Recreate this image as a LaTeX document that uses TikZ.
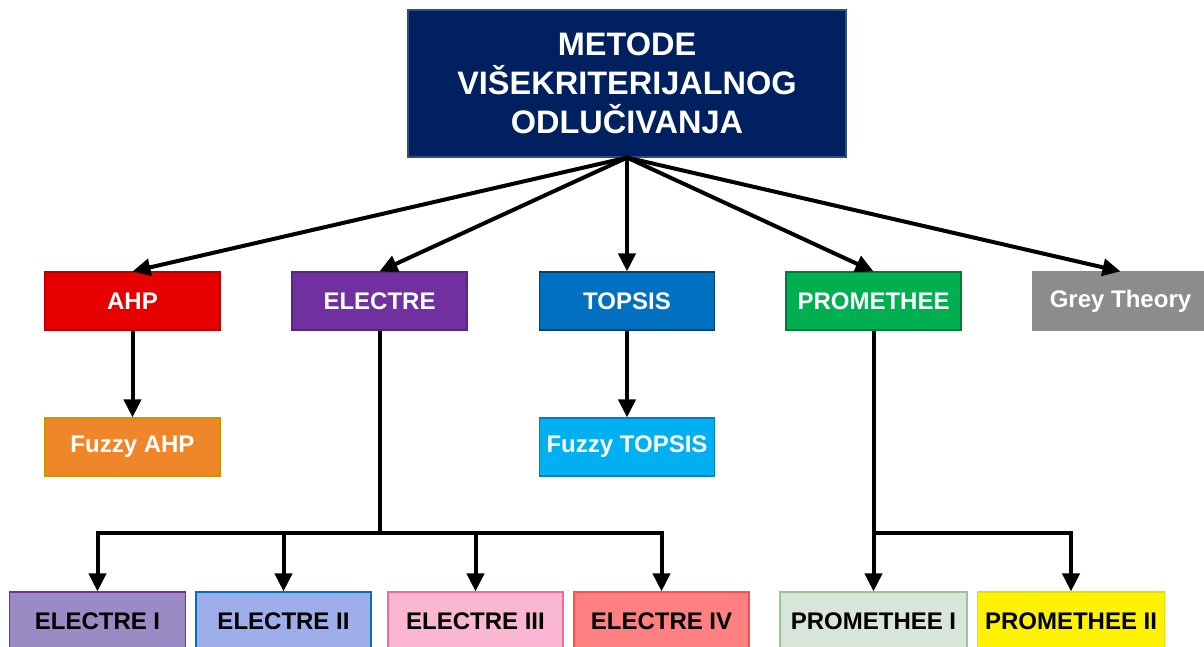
\documentclass[tikz,border=0pt]{standalone}
\usepackage{fontspec}
\setmainfont{Liberation Sans}
\usepackage{xcolor}
\usepackage{tikz}
\usetikzlibrary{arrows.meta}

\definecolor{navy}{HTML}{002060}
\definecolor{ahpred}{HTML}{E60000}
\definecolor{elpurple}{HTML}{7030A0}
\definecolor{topblue}{HTML}{0070C0}
\definecolor{progreen}{HTML}{00B050}
\definecolor{greyth}{HTML}{8C8C8C}
\definecolor{fuzorange}{HTML}{F0862A}
\definecolor{fuzcyan}{HTML}{00B0F0}

\tikzset{
        box/.style={draw, line width=1.2pt, minimum width=175pt, minimum height=58pt,
                inner sep=0pt, font=\fontsize{24}{28}\selectfont\bfseries, text=white},
        subbox/.style={box, text=black},
        arr/.style={line width=4pt, -{Triangle[length=18pt,width=17pt]}},
        ln/.style={line width=4pt}
}

\begin{document}
\begin{tikzpicture}[x=1pt, y=-1pt]
        \useasboundingbox (0,0) rectangle (1204,646);
        \clip (0,0) rectangle (1204,646);

        \node[box, fill=navy, draw=navy!80!white, minimum width=438pt, minimum height=147pt,
                align=center, font=\fontsize{32.5}{39}\selectfont\bfseries] (top) at (627,83.5)
                {METODE\\VIŠEKRITERIJALNOG\\ODLUČIVANJA};

        \node[box, fill=ahpred, draw=ahpred!80!black] (ahp) at (132.5,301) {AHP};
        \node[box, fill=elpurple, draw=elpurple!80!black] (electre) at (379.5,301) {ELECTRE};
        \node[box, fill=topblue, draw=topblue!60!black] (topsis) at (627,301) {TOPSIS};
        \node[box, fill=progreen, draw=progreen!70!black] (promethee) at (873.5,301) {PROMETHEE};
        \node[box, fill=greyth, draw=greyth] (grey) at (1120.5,301) {Grey Theory};

        \node[box, fill=fuzorange, draw={rgb,255:red,200;green,150;blue,0}] (fahp) at (132.5,447) {Fuzzy AHP};
        \node[box, fill=fuzcyan, draw=topblue!80!fuzcyan] (ftopsis) at (627,447) {Fuzzy TOPSIS};

        \node[subbox, fill={rgb,255:red,155;green,139;blue,196}, draw=elpurple, minimum width=176pt] (e1) at (97.5,621) {ELECTRE I};
        \node[subbox, fill={rgb,255:red,157;green,174;blue,234}, draw=topblue] (e2) at (283.5,621) {ELECTRE II};
        \node[subbox, fill={rgb,255:red,251;green,182;blue,209}, draw={rgb,255:red,240;green,107;blue,154}] (e3) at (475.5,621) {ELECTRE III};
        \node[subbox, fill={rgb,255:red,255;green,128;blue,128}, draw={rgb,255:red,255;green,80;blue,80}] (e4) at (661.5,621) {ELECTRE IV};
        \node[subbox, fill={rgb,255:red,216;green,230;blue,218}, draw={rgb,255:red,156;green,195;blue,156}, minimum width=187pt] (p1) at (873.5,621) {PROMETHEE I};
        \node[subbox, fill=yellow, draw={rgb,255:red,225;green,225;blue,0}, minimum width=187pt] (p2) at (1071,621) {PROMETHEE II};

        \foreach \n in {ahp, electre, topsis, promethee, grey}
                \draw[arr] (top.south) -- (\n.north);

        \draw[arr] (ahp.south) -- (fahp.north);
        \draw[arr] (topsis.south) -- (ftopsis.north);

        \coordinate (ebus) at (379.5,533);
        \draw[ln] (electre.south) -- (ebus);
        \foreach \n in {e1, e2, e3, e4}
                \draw[arr] (ebus) -| (\n.north);

        \coordinate (pbus) at (873.5,533);
        \draw[ln] (promethee.south) -- (pbus);
        \foreach \n in {p1, p2}
                \draw[arr] (pbus) -| (\n.north);
\end{tikzpicture}
\end{document}
